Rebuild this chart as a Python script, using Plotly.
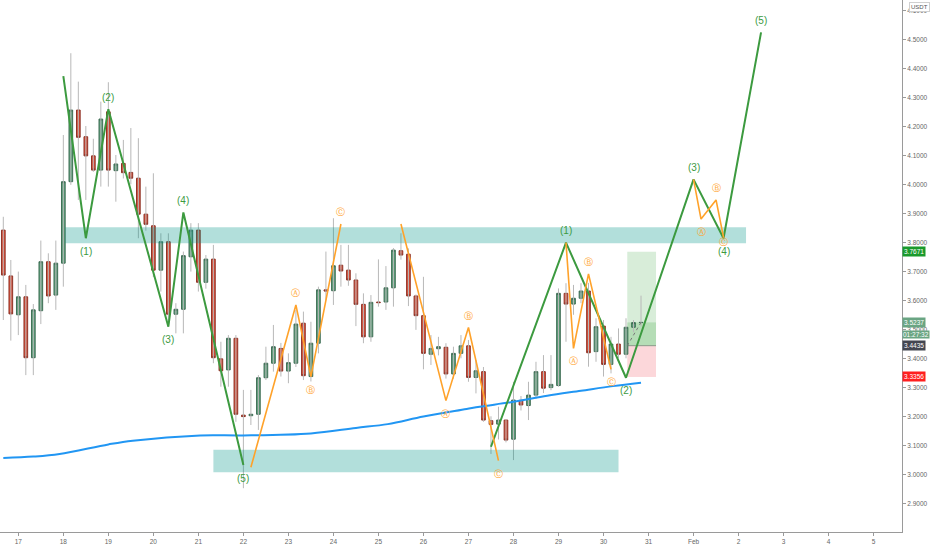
import pandas as pd
import plotly.graph_objects as go

# 4h bars, first one opens 16 Jan 16:00
bar_start = "2021-01-16 16:00"
opens = [3.842, 3.684, 3.550, 3.612, 3.402, 3.564, 3.733, 3.618, 3.728, 4.009,
         4.256, 4.164, 4.098, 4.049, 4.250, 4.047, 4.072, 4.041, 4.021, 3.897,
         3.857, 3.704, 3.802, 3.552, 3.569, 3.750, 3.842, 3.662, 3.742, 3.398,
         3.360, 3.469, 3.204, 3.202, 3.207, 3.333, 3.383, 3.434, 3.356, 3.383,
         3.521, 3.337, 3.452, 3.636, 3.633, 3.721, 3.704, 3.670, 3.586, 3.474,
         3.594, 3.594, 3.643, 3.771, 3.759, 3.615, 3.547, 3.414, 3.433, 3.438,
         3.346, 3.417, 3.443, 3.334, 3.354, 3.185, 3.173, 3.187, 3.121, 3.255,
         3.237, 3.273, 3.354, 3.299, 3.306, 3.624, 3.587, 3.607, 3.632, 3.423,
         3.511, 3.379, 3.449, 3.414, 3.507, 3.523]
highs = [3.888, 3.739, 3.699, 3.653, 3.587, 3.806, 3.762, 3.806, 4.170, 4.452,
         4.354, 4.201, 4.157, 4.285, 4.352, 4.101, 4.153, 4.194, 4.159, 3.992,
         4.038, 3.831, 3.831, 3.590, 3.768, 3.866, 3.866, 3.756, 3.791, 3.457,
         3.480, 3.480, 3.291, 3.291, 3.342, 3.440, 3.515, 3.453, 3.417, 3.567,
         3.561, 3.526, 3.647, 3.768, 3.883, 3.791, 3.791, 3.693, 3.624, 3.618,
         3.741, 3.718, 3.780, 3.831, 3.779, 3.620, 3.681, 3.480, 3.474, 3.452,
         3.440, 3.480, 3.463, 3.394, 3.370, 3.200, 3.233, 3.190, 3.319, 3.270,
         3.319, 3.388, 3.411, 3.411, 3.641, 3.659, 3.653, 3.659, 3.660, 3.538,
         3.532, 3.474, 3.503, 3.538, 3.532, 3.616]
lows = [3.532, 3.461, 3.480, 3.342, 3.342, 3.518, 3.590, 3.567, 3.647, 3.998,
        3.946, 3.946, 4.043, 3.992, 3.992, 3.940, 4.020, 4.000, 3.814, 3.840,
        3.680, 3.630, 3.509, 3.486, 3.486, 3.699, 3.630, 3.640, 3.383, 3.302,
        3.302, 3.181, 2.952, 3.170, 3.153, 3.325, 3.354, 3.337, 3.314, 3.370,
        3.325, 3.320, 3.417, 3.600, 3.584, 3.647, 3.650, 3.511, 3.452, 3.457,
        3.578, 3.567, 3.578, 3.740, 3.580, 3.498, 3.362, 3.377, 3.410, 3.330,
        3.330, 3.400, 3.319, 3.279, 3.181, 3.070, 3.120, 3.110, 3.049, 3.220,
        3.187, 3.260, 3.280, 3.290, 3.302, 3.457, 3.550, 3.590, 3.371, 3.388,
        3.337, 3.348, 3.400, 3.400, 3.490, 3.510]
closes = [3.687, 3.553, 3.612, 3.402, 3.567, 3.733, 3.615, 3.728, 4.009, 4.256,
          4.162, 4.098, 4.049, 4.225, 4.049, 4.070, 4.040, 4.021, 3.897, 3.862,
          3.704, 3.802, 3.552, 3.569, 3.754, 3.842, 3.662, 3.742, 3.402, 3.357,
          3.469, 3.207, 3.199, 3.207, 3.333, 3.383, 3.440, 3.356, 3.385, 3.518,
          3.340, 3.452, 3.636, 3.632, 3.719, 3.701, 3.670, 3.586, 3.474, 3.593,
          3.592, 3.643, 3.773, 3.756, 3.615, 3.547, 3.417, 3.434, 3.440, 3.346,
          3.417, 3.443, 3.334, 3.357, 3.187, 3.172, 3.187, 3.118, 3.256, 3.239,
          3.273, 3.354, 3.297, 3.310, 3.624, 3.587, 3.607, 3.632, 3.419, 3.509,
          3.379, 3.449, 3.414, 3.507, 3.523, 3.5237]

ma_times = ["2021-01-16 16:00", "2021-01-17 08:00", "2021-01-17 22:00", "2021-01-19 00:00",
            "2021-01-19 13:00", "2021-01-21 01:00", "2021-01-22 00:00", "2021-01-23 12:00",
            "2021-01-24 12:00", "2021-01-25 05:00", "2021-01-26 00:00", "2021-01-26 23:00",
            "2021-01-27 06:00", "2021-01-28 00:00", "2021-01-28 18:00", "2021-01-29 12:00",
            "2021-01-30 05:00", "2021-01-30 20:00"]
ma_values = [3.056, 3.061, 3.070, 3.103, 3.116, 3.134, 3.134, 3.141, 3.160, 3.173,
             3.199, 3.225, 3.233, 3.250, 3.271, 3.288, 3.304, 3.316]

# impulse waves
wave_labels = ["", "(1)", "(2)", "(3)", "(4)", "(5)"]
wave1_times = ["2021-01-18 00:00", "2021-01-18 12:00", "2021-01-19 00:00",
               "2021-01-20 08:00", "2021-01-20 16:00", "2021-01-22 00:00"]
wave1_prices = [4.373, 3.814, 4.259, 3.509, 3.903, 3.032]
wave1_sides = ["", "b", "a", "b", "a", "b"]
wave2_times = ["2021-01-27 12:00", "2021-01-29 04:00", "2021-01-30 12:00",
               "2021-02-01 00:00", "2021-02-01 16:00", "2021-02-02 12:00"]
wave2_prices = [3.095, 3.799, 3.333, 4.017, 3.814, 4.524]
wave2_sides = ["", "a", "b", "a", "b", "a"]

# corrective abc waves
abc_labels = ["", "Ⓐ", "Ⓑ", "Ⓒ"]
abc1_times = ["2021-01-22 04:00", "2021-01-23 04:00", "2021-01-23 12:00", "2021-01-24 04:00"]
abc1_prices = [3.024, 3.584, 3.337, 3.863]
abc1_sides = ["", "a", "b", "a"]
abc2_times = ["2021-01-25 12:00", "2021-01-26 12:00", "2021-01-27 00:00", "2021-01-27 16:00"]
abc2_prices = [3.863, 3.254, 3.506, 3.047]
abc2_sides = ["", "b", "a", "b"]
abc3_times = ["2021-01-29 04:00", "2021-01-29 08:00", "2021-01-29 16:00", "2021-01-30 04:00"]
abc3_prices = [3.799, 3.434, 3.691, 3.362]
abc3_sides = ["", "b", "a", "b"]
abc4_times = ["2021-02-01 00:00", "2021-02-01 04:00", "2021-02-01 12:00", "2021-02-01 16:00"]
abc4_prices = [4.017, 3.880, 3.946, 3.817]
abc4_sides = ["", "b", "a", "c"]

# zones
top_zone_times = ["2021-01-18 01:00", "2021-02-02 04:00"]
top_zone_prices = [3.797, 3.852]
low_zone_times = ["2021-01-21 08:00", "2021-01-30 08:00"]
low_zone_prices = [3.007, 3.085]

# long position
pos_times = ["2021-01-30 12:40", "2021-01-31 04:00"]
stop_price = 3.3356
entry_price = 3.4435
last_price = 3.5237
target_price = 3.7671
countdown = "01:27:32"

x_tick_dates = pd.date_range("2021-01-17", "2021-02-05", freq="D")
x_tick_text = ["17", "18", "19", "20", "21", "22", "23", "24", "25", "26", "27", "28",
               "29", "30", "31", "Feb", "2", "3", "4", "5"]
y_ticks = [2.9, 3.0, 3.1, 3.2, 3.3, 3.4, 3.5, 3.6, 3.7, 3.8, 3.9, 4.0, 4.1, 4.2, 4.3, 4.4, 4.5, 4.6]

GREEN_WAVE = "#3c9a3f"
ORANGE = "#ffa22a"
ZONE = "rgba(0,150,136,0.3)"
FONT = "Liberation Sans"

times = pd.date_range(bar_start, periods=len(opens), freq="4h")

fig = go.Figure()

# wicks (light grey), drawn separately from the bodies
wx, wy = [], []
for t, lo, hi in zip(times, lows, highs):
    wx += [t, t, None]
    wy += [lo, hi, None]
fig.add_trace(go.Scatter(x=wx, y=wy, mode="lines", line=dict(color="#b8b8b8", width=1),
                         hoverinfo="skip"))

body_hi = [max(o, c) for o, c in zip(opens, closes)]
body_lo = [min(o, c) for o, c in zip(opens, closes)]
fig.add_trace(go.Candlestick(
    x=times, open=opens, high=body_hi, low=body_lo, close=closes,
    increasing=dict(fillcolor="#5c9f7a", line=dict(color="#3f6d55", width=1)),
    decreasing=dict(fillcolor="#d9503c", line=dict(color="#8e3326", width=1)),
    whiskerwidth=0,
))


def zone(ts, ps):
    fig.add_trace(go.Scatter(
        x=[ts[0], ts[1], ts[1], ts[0], ts[0]], y=[ps[0], ps[0], ps[1], ps[1], ps[0]],
        mode="lines", fill="toself", fillcolor=ZONE, line=dict(width=0), hoverinfo="skip"))


zone(top_zone_times, top_zone_prices)
zone(low_zone_times, low_zone_prices)

fig.add_trace(go.Scatter(x=ma_times, y=ma_values, mode="lines",
                         line=dict(color="#2196f3", width=2, shape="spline"), hoverinfo="skip"))

annotations = []


def wave(ts, ps, labels, sides, color, width, size, font):
    fig.add_trace(go.Scatter(x=ts, y=ps, mode="lines", line=dict(color=color, width=width),
                             hoverinfo="skip"))
    for t, p, lab, s in zip(ts, ps, labels, sides):
        if not lab:
            continue
        shift = {"a": 12, "b": -13, "c": -5}[s]  # plotly yshift: positive = up
        annotations.append(dict(x=t, y=p, xref="x", yref="y", text=lab, showarrow=False,
                                yshift=shift, font=dict(color=color, size=size, family=font)))


wave(wave1_times, wave1_prices, wave_labels, wave1_sides, GREEN_WAVE, 2, 10, FONT)
wave(wave2_times, wave2_prices, wave_labels, wave2_sides, GREEN_WAVE, 2, 10, FONT)
for ts, ps, ss in [(abc1_times, abc1_prices, abc1_sides), (abc2_times, abc2_prices, abc2_sides),
                   (abc3_times, abc3_prices, abc3_sides), (abc4_times, abc4_prices, abc4_sides)]:
    wave(ts, ps, abc_labels, ss, ORANGE, 1.6, 9, "DejaVu Sans")

# position box
shapes = [
    dict(type="rect", xref="x", yref="y", x0=pos_times[0], x1=pos_times[1], y0=entry_price, y1=target_price,
         fillcolor="rgba(76,175,80,0.22)", line=dict(width=0), layer="below"),
    dict(type="rect", xref="x", yref="y", x0=pos_times[0], x1=pos_times[1], y0=entry_price, y1=last_price,
         fillcolor="rgba(76,175,80,0.25)", line=dict(width=0), layer="below"),
    dict(type="rect", xref="x", yref="y", x0=pos_times[0], x1=pos_times[1], y0=stop_price, y1=entry_price,
         fillcolor="rgba(242,54,69,0.2)", line=dict(width=0), layer="below"),
    dict(type="line", xref="x", yref="y", x0=pos_times[0], x1=pos_times[1], y0=entry_price, y1=entry_price,
         line=dict(color="#8a9a8a", width=1), layer="below"),
    dict(type="line", xref="x", yref="y", x0=pos_times[0], x1=times[-1], y0=entry_price, y1=last_price,
         line=dict(color="#777", width=1, dash="dot")),
]

# price scale labels
for price, bg in [(target_price, "#1a9a2c"), (last_price, "#6aa583"),
                  (entry_price, "#434651"), (stop_price, "#ff1f1f")]:
    annotations.append(dict(x=1.0, xref="paper", xanchor="left", y=price, yref="y", text=f"{price:.4f}",
                            showarrow=False, bgcolor=bg, borderpad=1,
                            font=dict(color="white", size=6.5, family=FONT)))
annotations.append(dict(x=1.0, xref="paper", xanchor="left", y=last_price, yref="y", yshift=-12,
                        text=countdown, showarrow=False, bgcolor="#6aa583", borderpad=0,
                        font=dict(color="white", size=6.5, family=FONT)))
annotations.append(dict(x=1.008, xref="paper", xanchor="left", y=0.997, yref="paper", yanchor="top",
                        text="USDT", showarrow=False, bgcolor="white", bordercolor="#d0d0d0",
                        borderwidth=1, borderpad=1, font=dict(color="#555", size=6, family=FONT)))

fig.update_layout(
    width=932, height=550,
    margin=dict(l=0, r=30, t=0, b=18),
    plot_bgcolor="white", paper_bgcolor="white",
    showlegend=False,
    shapes=shapes,
    annotations=annotations,
    xaxis=dict(type="date", range=["2021-01-16 14:14", "2021-02-05 15:09"],
               tickvals=x_tick_dates, ticktext=x_tick_text,
               showgrid=False, zeroline=False, showline=True, linecolor="#9a9a9a",
               ticks="outside", ticklen=3, tickcolor="#9a9a9a",
               tickfont=dict(size=6.5, color="#666", family=FONT),
               rangeslider=dict(visible=False)),
    yaxis=dict(side="right", range=[2.801, 4.6355],
               tickvals=y_ticks, ticktext=[f"{v:.4f}" for v in y_ticks],
               showgrid=False, zeroline=False, showline=True, linecolor="#9a9a9a",
               ticks="outside", ticklen=3, tickcolor="#9a9a9a",
               tickfont=dict(size=6.5, color="#666", family=FONT)),
)

# page default body margin would shift the chart by 8px
fig.write_html("out.html", config={"displayModeBar": False},
               post_script="document.body.style.margin='0';")
